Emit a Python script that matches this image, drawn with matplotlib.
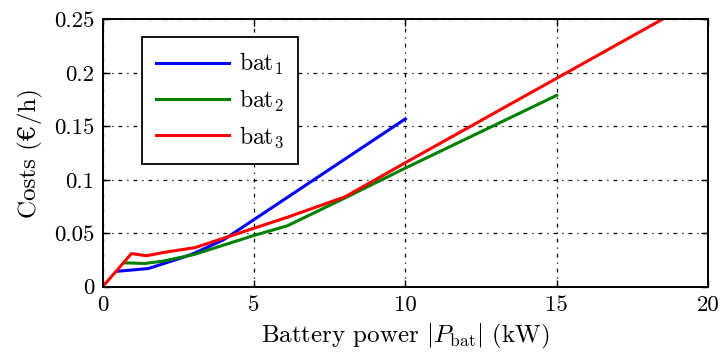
import matplotlib
matplotlib.use("Agg")
import matplotlib.pyplot as plt

plt.rcParams["font.family"] = ["cmr10", "DejaVu Serif"]
plt.rcParams["mathtext.fontset"] = "cm"
plt.rcParams["axes.unicode_minus"] = False

# battery power (kW) vs. costs (EUR/h) for the three batteries
p_bat1 = [0.5, 1.5, 2.5, 3.0, 4.0, 10.0]
c_bat1 = [0.0145, 0.017, 0.026, 0.031, 0.044, 0.157]

p_bat2 = [0.75, 1.4, 2.0, 3.0, 5.0, 6.1, 8.0, 10.0, 15.0]
c_bat2 = [0.0223, 0.0218, 0.024, 0.030, 0.048, 0.057, 0.083, 0.111, 0.179]

p_bat3 = [0.0, 0.95, 1.45, 2.0, 3.05, 6.1, 8.0, 10.0, 15.0, 20.0]
c_bat3 = [0.0, 0.031, 0.029, 0.032, 0.0366, 0.065, 0.084, 0.116, 0.195, 0.274]

xticks = [0, 5, 10, 15, 20]
yticks = [0, 0.05, 0.1, 0.15, 0.2, 0.25]
ytick_labels = ["0", "0.05", "0.1", "0.15", "0.2", "0.25"]

fig = plt.figure(figsize=(7.21, 3.54), dpi=100)
ax = fig.add_axes([0.1424, 0.19, 0.8396, 0.755])

ax.plot(p_bat1, c_bat1, color=(0, 0, 1), lw=2.2, label=r"bat$_1$")
ax.plot(p_bat2, c_bat2, color=(0, 0.5, 0), lw=2.2, label=r"bat$_2$")
ax.plot(p_bat3, c_bat3, color=(1, 0, 0), lw=2.2, label=r"bat$_3$")

ax.set_xlim(0, 20)
ax.set_ylim(0, 0.25)
ax.set_xticks(xticks)
ax.set_xticklabels([str(t) for t in xticks])
ax.set_yticks(yticks)
ax.set_yticklabels(ytick_labels)
ax.tick_params(direction="in", top=True, right=True, length=5, width=1,
               labelsize=16.5, pad=6)
for s in ax.spines.values():
    s.set_linewidth(1.4)

ax.grid(True, color="black", lw=0.9, linestyle=(0, (3, 4, 1, 4)))
ax.set_axisbelow(True)

ax.set_xlabel(r"Battery power $|P_{\mathrm{bat}}|$ (kW)", fontsize=18, labelpad=5)
ax.set_ylabel("Costs (€/h)", fontsize=18, labelpad=8)

leg = ax.legend(loc="upper left", bbox_to_anchor=(0.065, 0.935), fontsize=17,
                handlelength=3.1, handletextpad=0.4, labelspacing=0.45,
                borderpad=0.6, borderaxespad=0, fancybox=False, framealpha=1,
                edgecolor="black")
leg.get_frame().set_linewidth(1.3)

fig.savefig("out.png", dpi=100)
